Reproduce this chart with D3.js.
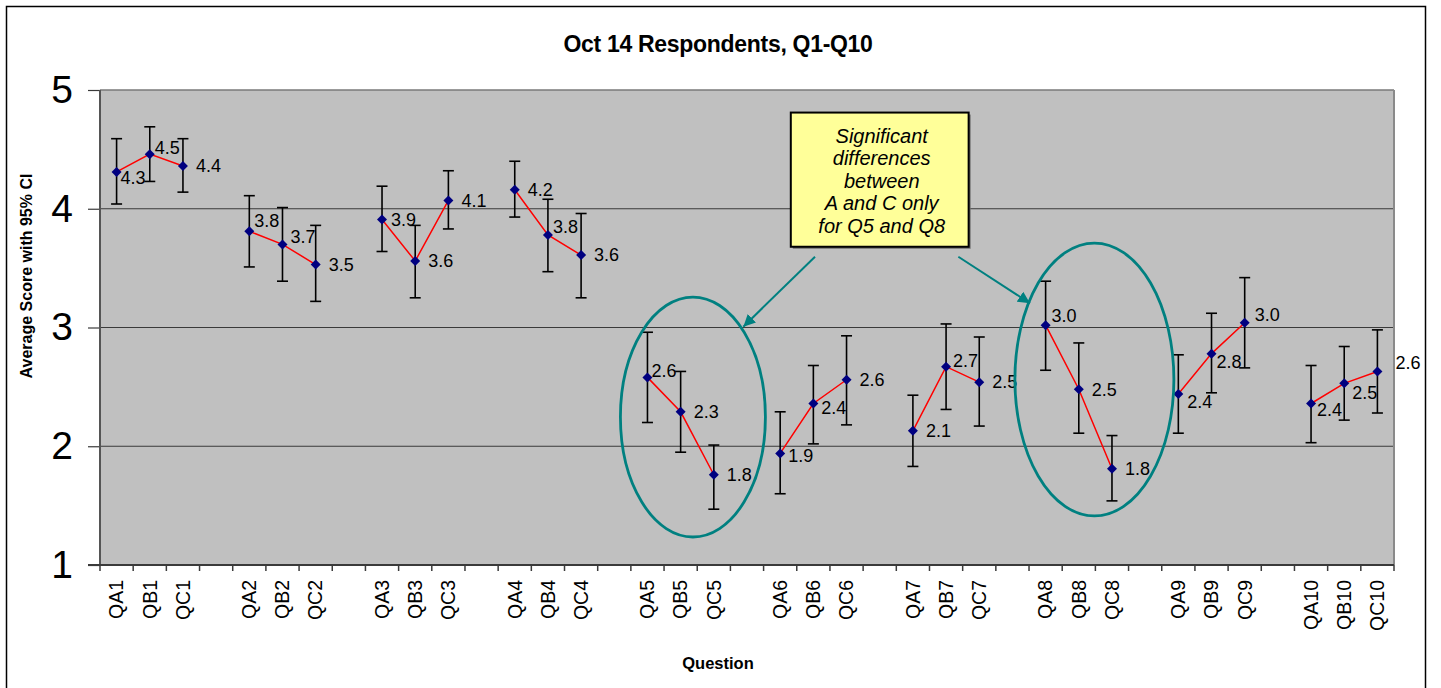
<!DOCTYPE html>
<html>
<head>
<meta charset="utf-8">
<script src="https://cdn.jsdelivr.net/npm/d3@7"></script>
<style>
  body { margin: 0; background: #fff; }
  text { font-family: "Liberation Sans", Arial, sans-serif; fill: #000; }
</style>
</head>
<body>
<div id="chart"></div>
<script>
// Chart data
var categories = ["QA1", "QB1", "QC1", "QA2", "QB2", "QC2", "QA3", "QB3", "QC3",
    "QA4", "QB4", "QC4", "QA5", "QB5", "QC5", "QA6", "QB6", "QC6", "QA7", "QB7", "QC7",
    "QA8", "QB8", "QC8", "QA9", "QB9", "QC9", "QA10", "QB10", "QC10"];
var means = [4.31, 4.46, 4.36, 3.81, 3.70, 3.53, 3.91, 3.56, 4.07,
    4.16, 3.78, 3.61, 2.58, 2.29, 1.76, 1.94, 2.36, 2.56, 2.13, 2.67, 2.54,
    3.02, 2.48, 1.81, 2.44, 2.78, 3.04, 2.36, 2.53, 2.63];
var ciUpper = [4.59, 4.69, 4.59, 4.11, 4.01, 3.86, 4.19, 3.86, 4.32,
    4.40, 4.08, 3.96, 2.96, 2.63, 2.01, 2.29, 2.68, 2.93, 2.43, 3.03, 2.92,
    3.39, 2.87, 2.09, 2.77, 3.12, 3.42, 2.68, 2.84, 2.98];
var ciLower = [4.04, 4.23, 4.14, 3.51, 3.39, 3.22, 3.64, 3.25, 3.83,
    3.93, 3.47, 3.25, 2.20, 1.95, 1.47, 1.60, 2.02, 2.18, 1.83, 2.31, 2.17,
    2.64, 2.11, 1.54, 2.11, 2.45, 2.66, 2.03, 2.22, 2.28];
var valueLabels = ["4.3", "4.5", "4.4", "3.8", "3.7", "3.5", "3.9", "3.6", "4.1",
    "4.2", "3.8", "3.6", "2.6", "2.3", "1.8", "1.9", "2.4", "2.6", "2.1", "2.7", "2.5",
    "3.0", "2.5", "1.8", "2.4", "2.8", "3.0", "2.4", "2.5", "2.6"];
var yTicks = [1, 2, 3, 4, 5];
var calloutLines = ["Significant", "differences", "between", "A and C only", "for Q5 and Q8"];

var svgWidth = 1441;
var svgHeight = 688;
var margin = {top: 90, right: 47, bottom: 123, left: 100};
var width = svgWidth - margin.left - margin.right;
var height = svgHeight - margin.top - margin.bottom;

// label nudges [dx, dy] so labels sit roughly where Excel put them
var labelNudge = {
    QA1: [4, 6], QB1: [5, -6], QA2: [5, -11], QB2: [8, -8], QA3: [9, 0], QB4: [5, -8],
    QA5: [4, -7], QA6: [8, 2], QB6: [8, 4], QB7: [7, -6], QA8: [6, -9],
    QA9: [9, 8], QB9: [5, 8], QC9: [10, -8], QA10: [6, 6], QB10: [8, 9], QC10: [18, -9]
};

var svg = d3.select("#chart")
    .append("svg")
    .attr("width", svgWidth)
    .attr("height", svgHeight);

// outer frame
svg.append("rect")
    .attr("x", 6.5).attr("y", 6.5)
    .attr("width", 1419).attr("height", 720)
    .attr("fill", "none").attr("stroke", "#000").attr("stroke-width", 1.5);

var chartGroup = svg.append("g")
    .attr("transform", `translate(${margin.left}, ${margin.top})`);

// x slots: three bars per question with an empty slot between questions
var slotKeys = [];
categories.forEach(function(c, i) {
    slotKeys.push(c);
    if (i % 3 === 2 && i < categories.length - 1) slotKeys.push("gap" + i);
});

var x = d3.scaleBand().domain(slotKeys).range([0, width]);
var y = d3.scaleLinear().domain([1, 5]).range([height, 0]);
var xc = d => x(d) + x.bandwidth() / 2;
var sx = s => s * x.step();

var data = categories.map(function(c, i) {
    return {q: c, group: Math.floor(i / 3), mean: means[i], lo: ciLower[i], hi: ciUpper[i], label: valueLabels[i]};
});

// plot background
chartGroup.append("rect")
    .attr("width", width).attr("height", height)
    .attr("fill", "#c0c0c0");

// gridlines
chartGroup.selectAll(".grid")
    .data(yTicks.filter(t => t > 1 && t < 5))
    .enter()
    .append("line")
    .attr("x1", 0).attr("x2", width)
    .attr("y1", d => y(d)).attr("y2", d => y(d))
    .attr("stroke", "#3a3a3a").attr("stroke-width", 1);

// plot border
chartGroup.append("line").attr("x1", 0).attr("x2", width).attr("y1", 0).attr("y2", 0)
    .attr("stroke", "#7a7a7a").attr("stroke-width", 1.5);
chartGroup.append("line").attr("x1", width).attr("x2", width).attr("y1", 0).attr("y2", height)
    .attr("stroke", "#8a8a8a").attr("stroke-width", 2);

// y axis
var leftAxis = d3.axisLeft(y).tickValues(yTicks).tickSize(12).tickPadding(15).tickFormat(d3.format("d"));
var yAxisG = chartGroup.append("g").call(leftAxis);
yAxisG.select(".domain").remove();
yAxisG.selectAll("line").attr("stroke", "#3a3a3a").attr("stroke-width", 1.2);
yAxisG.selectAll("text")
    .style("font-size", "39px")
    .style("font-family", "'Liberation Sans', Arial, sans-serif")
    .attr("fill", "#000");
chartGroup.append("line").attr("x1", 0).attr("x2", 0).attr("y1", 0).attr("y2", height)
    .attr("stroke", "#555").attr("stroke-width", 2);

// x axis
var bottomAxis = d3.axisBottom(x).tickSize(0).tickFormat(d => d.indexOf("gap") === 0 ? "" : d);
var xAxisG = chartGroup.append("g")
    .attr("transform", `translate(0, ${height})`)
    .call(bottomAxis);
xAxisG.select(".domain").remove();
xAxisG.selectAll("text")
    .attr("transform", "rotate(-90)")
    .attr("text-anchor", "end")
    .attr("x", -15)
    .attr("y", 0)
    .attr("dy", "0.35em")
    .style("font-size", "19.5px")
    .style("font-family", "'Liberation Sans', Arial, sans-serif")
    .attr("fill", "#000");
xAxisG.selectAll(".bound")
    .data(d3.range(slotKeys.length + 1))
    .enter()
    .append("line")
    .attr("x1", d => sx(d)).attr("x2", d => sx(d))
    .attr("y1", 0).attr("y2", 6)
    .attr("stroke", "#3a3a3a").attr("stroke-width", 1.5);
xAxisG.append("line").attr("x1", -12).attr("x2", width).attr("y1", 0).attr("y2", 0)
    .attr("stroke", "#3a3a3a").attr("stroke-width", 2);

// red line joining A, B, C within each question
var line = d3.line().x(d => xc(d.q)).y(d => y(d.mean));
chartGroup.selectAll(".series")
    .data(d3.groups(data, d => d.group))
    .enter()
    .append("path")
    .attr("d", d => line(d[1]))
    .attr("fill", "none")
    .attr("stroke", "#ff0000")
    .attr("stroke-width", 1.5);

// error bars
var bars = chartGroup.selectAll(".err").data(data).enter().append("g")
    .attr("stroke", "#000").attr("stroke-width", 1.6);
bars.append("line")
    .attr("x1", d => xc(d.q)).attr("x2", d => xc(d.q))
    .attr("y1", d => y(d.lo)).attr("y2", d => y(d.hi));
bars.append("line")
    .attr("x1", d => xc(d.q) - 5.5).attr("x2", d => xc(d.q) + 5.5)
    .attr("y1", d => y(d.hi)).attr("y2", d => y(d.hi));
bars.append("line")
    .attr("x1", d => xc(d.q) - 5.5).attr("x2", d => xc(d.q) + 5.5)
    .attr("y1", d => y(d.lo)).attr("y2", d => y(d.lo));

// diamond markers
chartGroup.selectAll(".marker")
    .data(data)
    .enter()
    .append("path")
    .attr("d", "M0,-5L5,0L0,5L-5,0Z")
    .attr("transform", d => `translate(${xc(d.q)}, ${y(d.mean)})`)
    .attr("fill", "#000080");

// value labels
chartGroup.selectAll(".vlabel")
    .data(data)
    .enter()
    .append("text")
    .attr("x", d => xc(d.q) + (labelNudge[d.q] ? labelNudge[d.q][0] : 13))
    .attr("y", d => y(d.mean) + (labelNudge[d.q] ? labelNudge[d.q][1] : 0))
    .attr("dy", "0.35em")
    .style("font-size", "18px")
    .text(d => d.label);

// annotations: ellipses around Q5 and Q8, arrows and callout box
var teal = "#008080";
chartGroup.append("ellipse")
    .attr("cx", sx(17.87)).attr("cy", y(2.246))
    .attr("rx", sx(2.185)).attr("ry", y(1) - y(2.01))
    .attr("fill", "none").attr("stroke", teal).attr("stroke-width", 2.8);
chartGroup.append("ellipse")
    .attr("cx", sx(29.97)).attr("cy", y(2.562))
    .attr("rx", sx(2.396)).attr("ry", y(1) - y(2.149))
    .attr("fill", "none").attr("stroke", teal).attr("stroke-width", 2.8);

svg.append("defs").append("marker")
    .attr("id", "arrow")
    .attr("viewBox", "0 0 10 10")
    .attr("refX", 10).attr("refY", 5)
    .attr("markerWidth", 6).attr("markerHeight", 6)
    .attr("markerUnits", "strokeWidth")
    .attr("orient", "auto")
    .append("path")
    .attr("d", "M0,0L10,5L0,10Z")
    .attr("fill", teal);

[[21.55, 3.596, 19.39, 3.007], [25.87, 3.596, 28.03, 3.204]].forEach(function(a) {
    chartGroup.append("line")
        .attr("x1", sx(a[0])).attr("y1", y(a[1]))
        .attr("x2", sx(a[2])).attr("y2", y(a[3]))
        .attr("stroke", teal).attr("stroke-width", 2)
        .attr("marker-end", "url(#arrow)");
});

var boxX0 = sx(20.82), boxX1 = sx(26.18), boxY0 = y(4.81), boxY1 = y(3.68);
chartGroup.append("rect")
    .attr("x", boxX0 + 2).attr("y", boxY0 + 2)
    .attr("width", boxX1 - boxX0).attr("height", boxY1 - boxY0)
    .attr("fill", "#6f6f6f");
chartGroup.append("rect")
    .attr("x", boxX0).attr("y", boxY0)
    .attr("width", boxX1 - boxX0).attr("height", boxY1 - boxY0)
    .attr("fill", "#ffff99").attr("stroke", "#000").attr("stroke-width", 2);
chartGroup.append("text")
    .attr("text-anchor", "middle")
    .style("font-size", "20px")
    .style("font-style", "italic")
    .selectAll("tspan")
    .data(calloutLines)
    .enter()
    .append("tspan")
    .attr("x", (boxX0 + boxX1) / 2 + 2)
    .attr("y", (d, i) => boxY0 + 23 + i * 22.6)
    .attr("dy", "0.35em")
    .text(d => d);

// titles
svg.append("text")
    .attr("x", 718).attr("y", 52)
    .attr("text-anchor", "middle")
    .style("font-size", "23px")
    .style("font-weight", "bold")
    .style("letter-spacing", "-0.3px")
    .text("Oct 14 Respondents, Q1-Q10");

svg.append("text")
    .attr("transform", "translate(32, 276) rotate(-90)")
    .attr("text-anchor", "middle")
    .style("font-size", "16px")
    .style("font-weight", "bold")
    .text("Average Score with 95% CI");

svg.append("text")
    .attr("x", 718).attr("y", 669)
    .attr("text-anchor", "middle")
    .style("font-size", "16.5px")
    .style("font-weight", "bold")
    .text("Question");
</script>
</body>
</html>
